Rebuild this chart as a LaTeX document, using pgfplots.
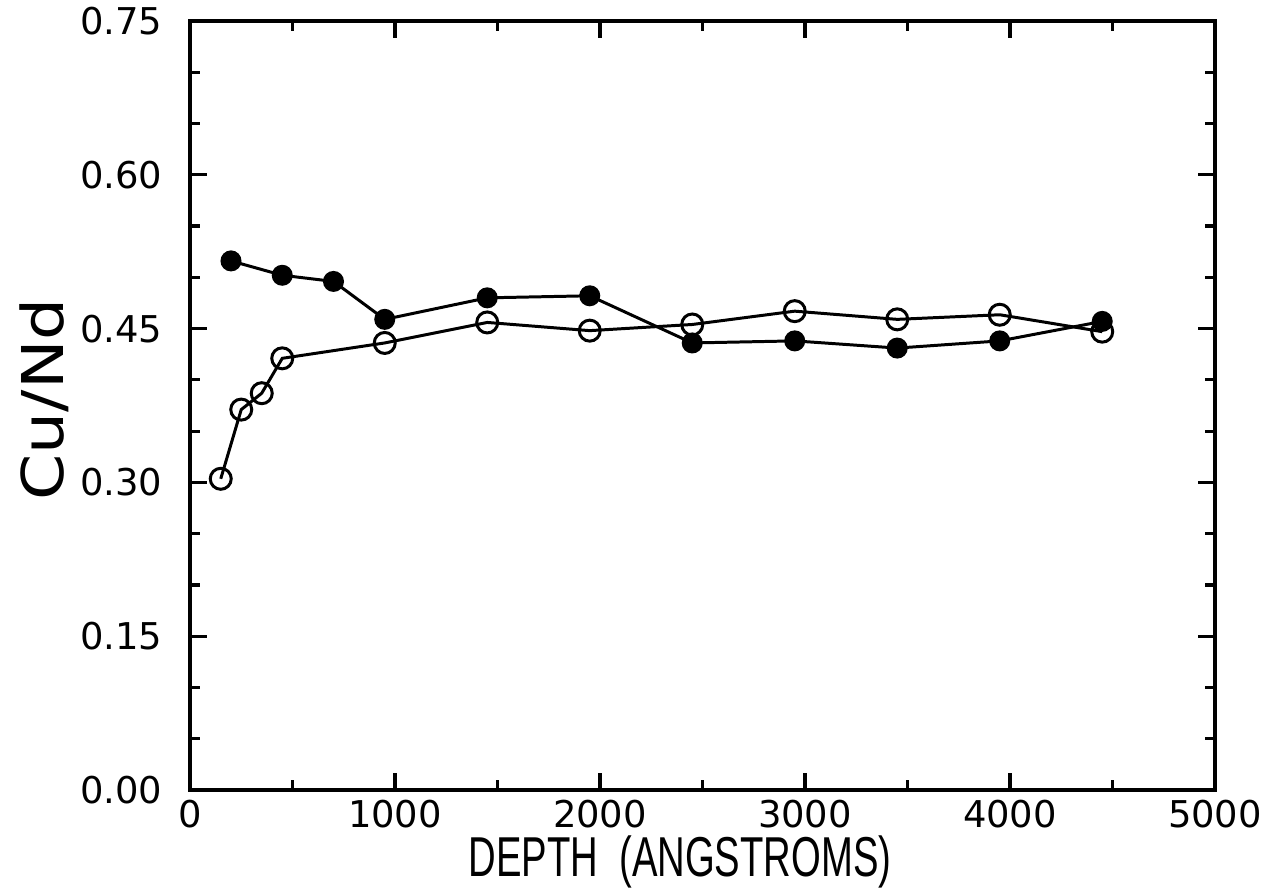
\documentclass[border=0pt]{standalone}
\usepackage{fontspec}
\setmainfont{DejaVu Sans}
\newfontfamily\lib{Liberation Sans}
\usepackage{pgfplots}
\pgfplotsset{compat=1.18}
\begin{document}
\begin{tikzpicture}
\useasboundingbox (-19.0mm,-10.0mm) rectangle (108.3mm,79.0mm);
\begin{axis}[
  scale only axis, width=102.5mm, height=76.9mm,
  xmin=0, xmax=5000, ymin=0, ymax=0.75,
  axis line style={line width=1pt},
  xtick={0,1000,2000,3000,4000,5000},
  xticklabels={0,1000,2000,3000,4000,5000},
  minor xtick={500,1500,2500,3500,4500},
  ytick={0,0.15,0.3,0.45,0.6,0.75},
  yticklabels={0.00,0.15,0.30,0.45,0.60,0.75},
  minor ytick={0.05,0.1,0.2,0.25,0.35,0.4,0.5,0.55,0.65,0.7},
  tick align=inside,
  major tick length=1.7mm, minor tick length=1.0mm,
  every tick/.style={black, line width=0.9pt},
  tick label style={font=\fontsize{10.5}{12}\selectfont},
  xticklabel style={anchor=north, inner sep=0pt, yshift=-0.9mm},
  yticklabel style={anchor=east, inner sep=0pt, xshift=-2.7mm},
  scaled x ticks=false,
  xlabel={\scalebox{0.68}[1]{\lib\fontsize{16}{18}\selectfont DEPTH\ \ (ANGSTROMS)}},
  ylabel={\scalebox{1.15}[1]{\fontsize{16.4}{18}\selectfont Cu/Nd}},
  every axis x label/.style={at={(axis description cs:0.478,-0.094)}, anchor=center, inner sep=0pt},
  every axis y label/.style={at={(axis description cs:-0.1424,0.508)}, anchor=center, rotate=90, inner sep=0pt},
]
\addplot[black, line width=0.85pt, mark=*, mark size=0.9mm, mark options={solid, fill=black}] coordinates {
(200,0.516) (450,0.502) (700,0.496) (950,0.459) (1450,0.480) (1950,0.482)
(2450,0.436) (2950,0.438) (3450,0.431) (3950,0.438) (4450,0.457)
};
\addplot[black, line width=0.85pt, mark=o, mark size=1.05mm, mark options={solid, line width=0.85pt}] coordinates {
(150,0.3035) (250,0.371) (350,0.387) (450,0.421) (950,0.436) (1450,0.456)
(1950,0.448) (2450,0.454) (2950,0.467) (3450,0.459) (3950,0.4635) (4450,0.447)
};
\end{axis}
\end{tikzpicture}
\end{document}
